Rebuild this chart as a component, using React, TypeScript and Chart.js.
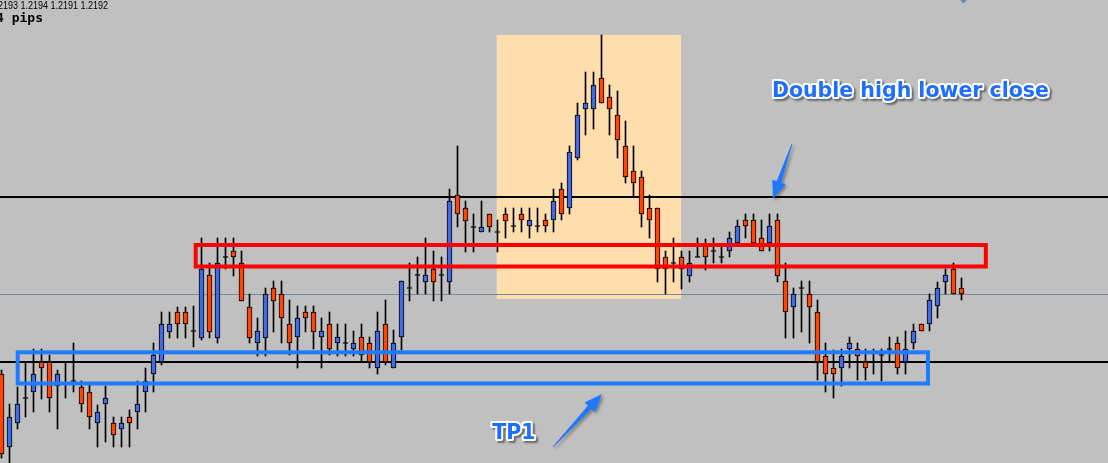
import React, { useEffect, useRef } from "react";
import { Chart, registerables } from "chart.js";

Chart.register(...registerables);

// ---- candle data (price, EURUSD 5-digit) ----
const opens = [
  1.2184, 1.21767, 1.21791, 1.21816, 1.21822, 1.21852, 1.21852, 1.21828, 1.21831, 1.21833,
  1.21827, 1.21822, 1.21791, 1.2181, 1.21791, 1.21785, 1.21797, 1.21802, 1.21822, 1.2184,
  1.21852, 1.21882, 1.21902, 1.21902, 1.21883, 1.21876, 1.21939, 1.21876, 1.21957, 1.21963,
  1.21951, 1.21907, 1.21871, 1.21876, 1.21926, 1.2192, 1.2189, 1.21877, 1.21902, 1.21902,
  1.21877, 1.2189, 1.21871, 1.21871, 1.21865, 1.21877, 1.21871, 1.21846, 1.2189, 1.21846,
  1.21877, 1.21926, 1.21939, 1.21932, 1.21945, 1.21939, 1.21932, 1.22019, 1.22006, 1.21987,
  1.21982, 1.22, 1.21982, 1.22, 1.21988, 1.22, 1.21988, 1.21988, 1.21994, 1.21994,
  1.22025, 1.22006, 1.22056, 1.22105, 1.22105, 1.22136, 1.22117, 1.22099, 1.22068, 1.22043,
  1.22037, 1.22006, 1.22006, 1.21957, 1.21951, 1.21957, 1.21938, 1.21957, 1.21968, 1.21963,
  1.21957, 1.21963, 1.21971, 1.21994, 1.21994, 1.21976, 1.21971, 1.21994, 1.21933, 1.21907,
  1.21926, 1.2192, 1.21902, 1.21858, 1.21846, 1.21846, 1.21865, 1.21865, 1.21852, 1.21852,
  1.21859, 1.21865, 1.21871, 1.21852, 1.21871, 1.2189, 1.2189, 1.21908, 1.21932, 1.21945, 1.21926,
];
const highs = [
  1.21844, 1.2181, 1.21827, 1.21852, 1.21865, 1.21865, 1.21859, 1.21844, 1.21852, 1.21871,
  1.21833, 1.21831, 1.21809, 1.21828, 1.21797, 1.21797, 1.21804, 1.21833, 1.21846, 1.21871,
  1.21902, 1.21902, 1.21907, 1.21907, 1.21908, 1.21976, 1.21951, 1.21976, 1.21976, 1.21976,
  1.21963, 1.2192, 1.21896, 1.21926, 1.21933, 1.21933, 1.21914, 1.21908, 1.21908, 1.21908,
  1.21896, 1.21902, 1.2189, 1.2189, 1.21883, 1.2189, 1.21877, 1.21902, 1.21914, 1.21884,
  1.21933, 1.21951, 1.21957, 1.21976, 1.21963, 1.21957, 1.22025, 1.22068, 1.22013, 1.22,
  1.22013, 1.22, 1.21994, 1.22006, 1.22006, 1.22006, 1.22006, 1.22006, 1.22, 1.22025,
  1.22031, 1.22068, 1.22111, 1.22142, 1.22142, 1.22179, 1.22129, 1.22123, 1.22093, 1.22068,
  1.22043, 1.22019, 1.22006, 1.21963, 1.21976, 1.21963, 1.21963, 1.21976, 1.21975, 1.21976,
  1.21969, 1.21982, 1.21994, 1.22, 1.22, 1.21994, 1.22, 1.22, 1.21951, 1.21926,
  1.21933, 1.21933, 1.21914, 1.21871, 1.21864, 1.21865, 1.21877, 1.21871, 1.21865, 1.21865,
  1.21865, 1.21877, 1.21877, 1.21883, 1.2189, 1.2189, 1.2192, 1.21932, 1.21945, 1.21951, 1.21936,
];
const lows = [
  1.21756, 1.21751, 1.21785, 1.21797, 1.21802, 1.21815, 1.21802, 1.21785, 1.21816, 1.21822,
  1.21802, 1.21785, 1.21767, 1.21772, 1.21767, 1.21767, 1.21767, 1.21785, 1.21802, 1.21822,
  1.21849, 1.21876, 1.21876, 1.21876, 1.21867, 1.21874, 1.21876, 1.21871, 1.21945, 1.21938,
  1.21913, 1.21871, 1.21858, 1.21858, 1.21882, 1.21871, 1.21859, 1.21846, 1.21882, 1.21865,
  1.21846, 1.21859, 1.21858, 1.21858, 1.21858, 1.21852, 1.21846, 1.2184, 1.21849, 1.21846,
  1.21864, 1.21913, 1.2192, 1.2192, 1.21913, 1.21913, 1.2192, 1.21987, 1.21962, 1.21962,
  1.21982, 1.21982, 1.21962, 1.21976, 1.21982, 1.21982, 1.21976, 1.21982, 1.21982, 1.21982,
  1.21994, 1.22, 1.22054, 1.22079, 1.22085, 1.22111, 1.22079, 1.22056, 1.22031, 1.22018,
  1.21987, 1.21976, 1.21932, 1.2192, 1.21932, 1.21925, 1.21932, 1.21957, 1.21944, 1.21951,
  1.21951, 1.21957, 1.21969, 1.21976, 1.21969, 1.21963, 1.21963, 1.21932, 1.21876, 1.21876,
  1.21882, 1.21871, 1.21834, 1.21822, 1.21816, 1.21828, 1.21846, 1.21834, 1.21834, 1.2184,
  1.21833, 1.21852, 1.2184, 1.2184, 1.21865, 1.21883, 1.21883, 1.21896, 1.2192, 1.2192, 1.21914,
];
const closes = [
  1.2176, 1.21797, 1.2181, 1.21816, 1.2184, 1.21846, 1.21816, 1.2184, 1.21831, 1.21833,
  1.2181, 1.21797, 1.21802, 1.21816, 1.21779, 1.21791, 1.21791, 1.2181, 1.21833, 1.21859,
  1.2189, 1.2189, 1.2189, 1.2189, 1.21883, 1.21945, 1.21882, 1.21951, 1.21957, 1.21957,
  1.21913, 1.21876, 1.21883, 1.2192, 1.21913, 1.21896, 1.21871, 1.21896, 1.21896, 1.21882,
  1.21883, 1.21865, 1.21877, 1.21871, 1.21871, 1.21859, 1.21852, 1.21883, 1.21852, 1.21871,
  1.21933, 1.21926, 1.21939, 1.21939, 1.21932, 1.21939, 1.22013, 1.22, 1.21993, 1.21987,
  1.21987, 1.21987, 1.21982, 1.21993, 1.21988, 1.21994, 1.21994, 1.21988, 1.21988, 1.22013,
  1.22, 1.22062, 1.22099, 1.22111, 1.22129, 1.22111, 1.22105, 1.22074, 1.22037, 1.22031,
  1.22, 1.21994, 1.21945, 1.21945, 1.21951, 1.21945, 1.21951, 1.21957, 1.21957, 1.21963,
  1.21957, 1.21976, 1.21988, 1.21988, 1.21971, 1.21963, 1.21988, 1.21938, 1.21902, 1.2192,
  1.21926, 1.21907, 1.21852, 1.2184, 1.2184, 1.21858, 1.21871, 1.21858, 1.21846, 1.21852,
  1.21859, 1.21865, 1.21846, 1.21865, 1.21883, 1.21883, 1.21914, 1.21926, 1.21939, 1.2192, 1.2192,
];

// header text
const headerPrices = ["1.2193", "1.2194", "1.2191", "1.2192"];
const spreadLabel = "4 pips";
const noteText = "Double high lower close";
const tpText = "TP1";

// price levels / annotation geometry in data units (bar index, price)
const resistanceLevel = 1.22017;
const supportLevel = 1.21852;
const bidLevel = 1.2192;
const zone = { x0: 61.9, x1: 84.94, top: 1.22179, bottom: 1.21915 };
const redBox = { x0: 24.275, x1: 123.04, top: 1.21969, bottom: 1.219475 };
const blueBox = { x0: 2.025, x1: 115.81, top: 1.218617, bottom: 1.218305 };
const arrow1 = { x1: 98.81, y1: 1.2207, x2: 96.44, y2: 1.22015 };
const arrow2 = { x1: 68.94, y1: 1.21767, x2: 75.06, y2: 1.2182 };
const notePos = { x: 96.3, y: 1.221175 };
const tpPos = { x: 61.35, y: 1.21775 };

const X_MIN = -0.1875;
const X_MAX = 138.3125;
const Y_MIN = 1.21751;
const Y_MAX = 1.22214;

const BULL = "#4169E1";
const BEAR = "#FF4500";
const DOJI_EPS = 0.000005;

function drawArrow(ctx: CanvasRenderingContext2D, x1: number, y1: number, x2: number, y2: number) {
  const dx = x2 - x1;
  const dy = y2 - y1;
  const len = Math.hypot(dx, dy);
  const ux = dx / len;
  const uy = dy / len;
  const nx = -uy;
  const ny = ux;
  const headLen = 18;
  const headHalf = 7;
  const bx = x2 - ux * headLen;
  const by = y2 - uy * headLen;
  ctx.beginPath();
  ctx.moveTo(x1 + nx * 0.4, y1 + ny * 0.4);
  ctx.lineTo(bx + nx * 2.4, by + ny * 2.4);
  ctx.lineTo(bx + nx * headHalf, by + ny * headHalf);
  ctx.lineTo(x2, y2);
  ctx.lineTo(bx - nx * headHalf, by - ny * headHalf);
  ctx.lineTo(bx - nx * 2.4, by - ny * 2.4);
  ctx.lineTo(x1 - nx * 0.4, y1 - ny * 0.4);
  ctx.closePath();
  ctx.fill();
}

function drawOutlinedText(ctx: CanvasRenderingContext2D, text: string, x: number, y: number) {
  ctx.save();
  ctx.font = 'bold 20.5px "DejaVu Sans"';
  ctx.textAlign = "left";
  ctx.textBaseline = "alphabetic";
  ctx.lineJoin = "round";
  ctx.shadowColor = "rgba(0,0,0,0.45)";
  ctx.shadowOffsetX = 2;
  ctx.shadowOffsetY = 2;
  ctx.shadowBlur = 2;
  ctx.strokeStyle = "#ffffff";
  ctx.lineWidth = 4;
  ctx.strokeText(text, x, y);
  ctx.shadowColor = "transparent";
  ctx.fillStyle = "#1E6EFF";
  ctx.fillText(text, x, y);
  ctx.restore();
}

const overlayPlugin = {
  id: "mtOverlay",
  beforeDatasetsDraw(chart: any) {
    const { ctx, scales } = chart;
    const xs = scales.x;
    const ys = scales.y;
    ctx.save();
    // highlighted zone
    const zx0 = xs.getPixelForValue(zone.x0);
    const zx1 = xs.getPixelForValue(zone.x1);
    const zy0 = ys.getPixelForValue(zone.top);
    const zy1 = ys.getPixelForValue(zone.bottom);
    ctx.fillStyle = "#FFDEAD";
    ctx.fillRect(zx0, zy0, zx1 - zx0, zy1 - zy0);
    // horizontal levels
    const L = chart.chartArea.left;
    const R = chart.chartArea.right;
    ctx.strokeStyle = "#000000";
    ctx.lineWidth = 2;
    for (const lvl of [resistanceLevel, supportLevel]) {
      const y = Math.round(ys.getPixelForValue(lvl));
      ctx.beginPath();
      ctx.moveTo(L, y);
      ctx.lineTo(R, y);
      ctx.stroke();
    }
    ctx.strokeStyle = "#778899";
    ctx.lineWidth = 1;
    const by = Math.round(ys.getPixelForValue(bidLevel)) + 0.5;
    ctx.beginPath();
    ctx.moveTo(L, by);
    ctx.lineTo(R, by);
    ctx.stroke();
    ctx.restore();
  },
  afterDatasetsDraw(chart: any) {
    const { ctx, scales, chartArea } = chart;
    const xs = scales.x;
    const ys = scales.y;
    ctx.save();
    // rectangles
    const box = (b: any, color: string) => {
      const x0 = xs.getPixelForValue(b.x0);
      const x1 = xs.getPixelForValue(b.x1);
      const y0 = ys.getPixelForValue(b.top);
      const y1 = ys.getPixelForValue(b.bottom);
      ctx.strokeStyle = color;
      ctx.lineWidth = 4;
      ctx.lineJoin = "miter";
      ctx.strokeRect(x0, y0, x1 - x0, y1 - y0);
    };
    box(redBox, "#FF0000");
    box(blueBox, "#1F7BFF");

    // arrows
    ctx.save();
    ctx.fillStyle = "#1E78FF";
    ctx.shadowColor = "rgba(0,0,0,0.35)";
    ctx.shadowOffsetX = 2;
    ctx.shadowOffsetY = 2;
    ctx.shadowBlur = 3;
    for (const a of [arrow1, arrow2]) {
      drawArrow(
        ctx,
        xs.getPixelForValue(a.x1),
        ys.getPixelForValue(a.y1),
        xs.getPixelForValue(a.x2),
        ys.getPixelForValue(a.y2)
      );
    }
    ctx.restore();

    // labels
    drawOutlinedText(ctx, noteText, xs.getPixelForValue(notePos.x), ys.getPixelForValue(notePos.y));
    drawOutlinedText(ctx, tpText, xs.getPixelForValue(tpPos.x), ys.getPixelForValue(tpPos.y));

    // header info
    ctx.fillStyle = "#000000";
    ctx.textAlign = "right";
    ctx.textBaseline = "alphabetic";
    ctx.save();
    ctx.translate(chartArea.left + 108, chartArea.top + 9);
    ctx.scale(0.9, 1);
    ctx.font = '10px "Liberation Sans"';
    ctx.fillText(headerPrices.join(" "), 0, 0);
    ctx.restore();
    ctx.font = 'bold 13px "DejaVu Sans Mono"';
    ctx.fillText(spreadLabel, chartArea.left + 43, chartArea.top + 22);

    // chart shift marker
    const mx = xs.getPixelForValue(120.25);
    ctx.fillStyle = "#778899";
    ctx.beginPath();
    ctx.moveTo(mx - 3.5, chartArea.top);
    ctx.lineTo(mx + 3.5, chartArea.top);
    ctx.lineTo(mx, chartArea.top + 3.5);
    ctx.closePath();
    ctx.fill();
    ctx.restore();
  },
};

export default function App() {
  const canvasRef = useRef<HTMLCanvasElement | null>(null);

  useEffect(() => {
    if (!canvasRef.current) return;
    const idx = opens.map((_, i) => i);
    const bodyData = idx.map((i) => {
      const o = opens[i];
      const c = closes[i];
      const lo = Math.min(o, c);
      const hi = Math.max(o, c);
      return { x: i, y: lo === hi ? [lo - DOJI_EPS, hi + DOJI_EPS] : [lo, hi] };
    });
    const bodyColors = idx.map((i) =>
      closes[i] > opens[i] ? BULL : closes[i] < opens[i] ? BEAR : "#000000"
    );
    const wickData = idx.map((i) => ({ x: i, y: [lows[i], highs[i]] }));

    const chart = new Chart(canvasRef.current, {
      type: "bar",
      data: {
        datasets: [
          {
            label: "body",
            data: bodyData as any,
            backgroundColor: bodyColors,
            borderColor: "#000000",
            borderWidth: 1,
            borderSkipped: false,
            barThickness: 5,
            grouped: false,
            order: 0,
          } as any,
          {
            label: "wick",
            data: wickData as any,
            backgroundColor: "#000000",
            borderWidth: 0,
            barThickness: 1,
            grouped: false,
            order: 1,
          } as any,
        ],
      },
      options: {
        animation: false,
        responsive: false,
        maintainAspectRatio: false,
        devicePixelRatio: 1,
        events: [],
        layout: { padding: 0 },
        plugins: {
          legend: { display: false },
          tooltip: { enabled: false },
          title: { display: false },
        },
        scales: {
          x: {
            type: "linear",
            min: X_MIN,
            max: X_MAX,
            offset: false,
            display: false,
          },
          y: {
            type: "linear",
            min: Y_MIN,
            max: Y_MAX,
            display: false,
          },
        },
      } as any,
      plugins: [overlayPlugin],
    });
    return () => chart.destroy();
  }, []);

  return (
    <div
      style={{
        position: "fixed",
        left: 0,
        top: 0,
        width: 1108,
        height: 463,
        background: "#C0C0C0",
        overflow: "hidden",
      }}
    >
      <canvas ref={canvasRef} width={1108} height={463} style={{ display: "block", width: 1108, height: 463 }} />
    </div>
  );
}
